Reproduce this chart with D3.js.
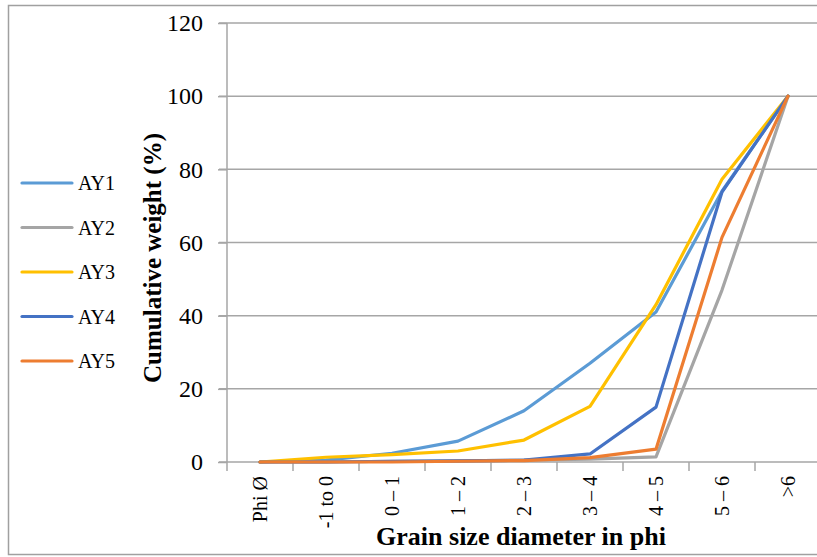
<!DOCTYPE html>
<html><head><meta charset="utf-8">
<script src="https://cdn.jsdelivr.net/npm/d3@7"></script>
<style>body{margin:0;background:#fff}svg{display:block}text{font-family:"Liberation Serif","Times New Roman",serif;fill:#000}</style>
</head><body><svg id="c" width="817" height="557"></svg>
<script>
const categories = ["Phi Ø","-1 to 0","0 – 1","1 – 2","2 – 3","3 – 4","4 – 5","5 – 6",">6"];
const seriesNames = ["AY1","AY2","AY3","AY4","AY5"];
const AY1 = [0, 0.5, 2.4, 5.7, 14, 27, 41, 74, 100];
const AY2 = [0, 0, 0.2, 0.3, 0.5, 0.8, 1.4, 47, 100];
const AY3 = [0, 1.3, 2, 3, 6, 15.2, 43, 77.3, 100];
const AY4 = [0, 0, 0.2, 0.3, 0.5, 2.2, 15, 73.8, 100];
const AY5 = [0, 0, 0, 0.2, 0.4, 1.2, 3.5, 61.4, 100];
const yTicks = [0,20,40,60,80,100,120];
const colors = ["#5B9BD5","#A5A5A5","#FFC000","#4472C4","#ED7D31"];
const seriesVals = [AY1,AY2,AY3,AY4,AY5];

const svg = d3.select("#c");
svg.append("rect").attr("x",8.5).attr("y",5.5).attr("width",830).attr("height",549)
  .attr("fill","none").attr("stroke","#a0a0a0").attr("stroke-width",1.5);

const x0 = 227, bw = 66;
const xb = d3.scaleBand().domain(categories).range([x0, x0 + bw*categories.length]).padding(0);
const xp = d3.scalePoint().domain(categories).range([x0, x0 + bw*categories.length]).padding(0.5);
const y = d3.scaleLinear().domain([0,120]).range([462,23]);

// gridlines
svg.append("g").selectAll("line").data(yTicks.filter(d=>d>0)).join("line")
  .attr("x1",219).attr("x2",830).attr("y1",d=>y(d)).attr("y2",d=>y(d))
  .attr("stroke","#a6a6a6").attr("stroke-width",1.5);

// y axis
const ya = svg.append("g").attr("transform",`translate(${x0},0)`)
  .call(d3.axisLeft(y).tickValues(yTicks).tickSize(9).tickPadding(15));
ya.select(".domain").attr("stroke","#a6a6a6").attr("stroke-width",1.5).attr("d",`M0,${y(120)}V${y(0)}`);
ya.selectAll(".tick line").attr("stroke","#a6a6a6").attr("stroke-width",1.5);
ya.selectAll(".tick text").style("font-size","24px").attr("font-family","Liberation Serif").attr("fill","#000");

// x axis
const xa = svg.append("g").attr("transform",`translate(0,${y(0)})`)
  .call(d3.axisBottom(xb).tickSize(0).tickPadding(0));
xa.select(".domain").attr("stroke","#a6a6a6").attr("stroke-width",1.5).attr("d",`M${x0-8},0H830`);
xa.selectAll(".tick text").attr("transform","rotate(-90)").attr("text-anchor","end")
  .attr("x",-14).attr("y",0).attr("dy","0.35em").style("font-size","20px").attr("font-family","Liberation Serif").attr("fill","#000");
svg.append("g").selectAll("line").data(categories.map((c,i)=>i).concat([categories.length])).join("line")
  .attr("x1",i=>x0+i*bw).attr("x2",i=>x0+i*bw).attr("y1",y(0)).attr("y2",y(0)+9)
  .attr("stroke","#a6a6a6").attr("stroke-width",1.5);

// lines
const line = d3.line().x((d,i)=>xp(categories[i])).y(d=>y(d));
seriesVals.forEach((vals,k)=>{
  svg.append("path").datum(vals).attr("d",line).attr("fill","none")
    .attr("stroke",colors[k]).attr("stroke-width",3.2).attr("stroke-linejoin","round").attr("stroke-linecap","round");
});

// legend
const lg = svg.append("g");
seriesNames.forEach((n,k)=>{
  const ly = 183 + k*44.5;
  lg.append("line").attr("x1",22).attr("x2",72).attr("y1",ly).attr("y2",ly)
    .attr("stroke",colors[k]).attr("stroke-width",3.2).attr("stroke-linecap","round");
  lg.append("text").attr("x",78).attr("y",ly).attr("dy","0.35em").style("font-size","20px").text(n);
});

// titles
svg.append("text").attr("transform","translate(152,258) rotate(-90)").attr("text-anchor","middle")
  .attr("dy","0.35em").style("font-size","25px").style("font-weight","bold").text("Cumulative weight (%)");
svg.append("text").attr("x",521).attr("y",545).attr("text-anchor","middle")
  .style("font-size","26px").style("font-weight","bold").text("Grain size diameter in phi");
</script></body></html>
